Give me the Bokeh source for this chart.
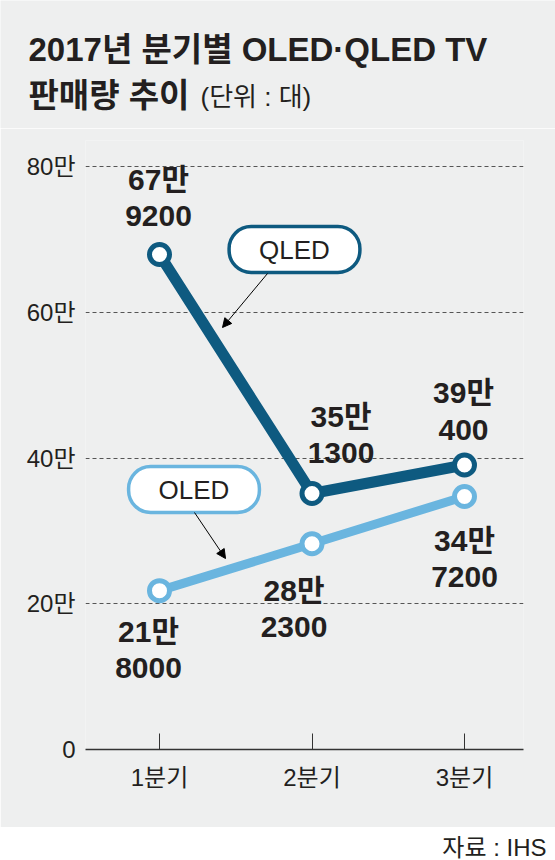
from bokeh.plotting import figure
from bokeh.models import Range1d, FixedTicker, Label, Arrow, NormalHead
from bokeh.layouts import column
from bokeh.embed import file_html
from bokeh.resources import INLINE
from bokeh.core.properties import value

# ---- data ----
quarters = ["1분기", "2분기", "3분기"]
quarter_pos = [1, 2, 3]
qled = [679200, 351300, 390400]
oled = [218000, 282300, 347200]
y_ticks = [0, 200000, 400000, 600000, 800000]
y_tick_labels = ["0", "20만", "40만", "60만", "80만"]
title_line1 = "2017년 분기별 OLED·QLED TV"
title_line2 = "판매량 추이"
unit_text = "(단위 : 대)"
source_text = "자료 : IHS"


def man(v):
    return f"{v // 10000}만\n{v % 10000}"


# ---- styling / layout (page pixel coordinates) ----
FONT = "Liberation Sans, Noto Sans CJK KR"
INK = "#231f20"
BG = "#eeefef"
QC = "#0e5a80"
OC = "#6ab5df"

W = 555
HT = 128                 # title strip height
GRAY_END = 827           # bottom of the gray panel
H_MAIN = GRAY_END - HT
H_FOOT = 860 - GRAY_END
FL, FR, FT, FB = 85, 523, 140, 749           # frame edges (page px)
X1, STEP = 159, 152.5                        # px of quarter 1, px per quarter
PY = 145.75 / 200000                         # px per unit (y)
XS = 1 - (X1 - FL) / STEP
XE = 1 + (FR - X1) / STEP
YE = (FB - FT) / PY


def dx(px):
    return XS + (px - FL) / STEP


def dy(py):
    return (FB - py) / PY


# ---- title strip ----
t = figure(width=W, height=HT, x_range=Range1d(0, W), y_range=Range1d(HT, 0),
           output_backend="svg", toolbar_location=None, min_border=0,
           frame_align=False,
           x_axis_type=None, y_axis_type=None, background_fill_color=BG,
           border_fill_color=BG, outline_line_color=None)
t.text(x=[28], y=[49], text=[title_line1], text_align="left", text_baseline="middle",
       text_font=value(FONT), text_font_style="bold", text_font_size="33px",
       text_color=INK)
t.text(x=[28], y=[95], text=[title_line2], text_align="left", text_baseline="middle",
       text_font=value(FONT), text_font_style="bold", text_font_size="33px",
       text_color=INK)
t.text(x=[200], y=[96], text=[unit_text], text_align="left", text_baseline="middle",
       text_font=value(FONT), text_font_size="26px", text_color=INK)

# ---- main chart ----
p = figure(width=W, height=H_MAIN, x_range=Range1d(XS, XE), y_range=Range1d(0, YE),
           output_backend="svg", toolbar_location=None, frame_align=False,
           min_border_left=FL, min_border_right=W - FR,
           min_border_top=FT - HT, min_border_bottom=GRAY_END - FB,
           background_fill_color=BG, border_fill_color=BG, outline_line_color=None)

p.xaxis.ticker = FixedTicker(ticks=quarter_pos)
p.xaxis.major_label_overrides = {q: s for q, s in zip(quarter_pos, quarters)}
p.xaxis.major_tick_in = 16
p.xaxis.major_tick_out = 0
p.xaxis.minor_tick_line_color = None
p.xaxis.axis_line_color = "#333333"
p.xaxis.axis_line_width = 1.5
p.xaxis.major_tick_line_color = "#333333"
p.xaxis.major_label_text_font = FONT
p.xaxis.major_label_text_font_size = "24px"
p.xaxis.major_label_text_color = INK
p.xaxis.major_label_standoff = 14

p.yaxis.ticker = FixedTicker(ticks=y_ticks)
p.yaxis.major_label_overrides = {v: s for v, s in zip(y_ticks, y_tick_labels)}
p.yaxis.axis_line_color = None
p.yaxis.major_tick_line_color = None
p.yaxis.minor_tick_line_color = None
p.yaxis.major_label_text_font = FONT
p.yaxis.major_label_text_font_size = "24px"
p.yaxis.major_label_text_color = INK
p.yaxis.major_label_standoff = 4

p.xgrid.visible = False
p.ygrid.grid_line_dash = "4 3"
p.ygrid.grid_line_color = "#555555"
p.ygrid.grid_line_width = 1

p.line(quarter_pos, oled, line_width=9, color=OC)
p.line(quarter_pos, qled, line_width=11, color=QC)
p.scatter(quarter_pos, oled, size=20, fill_color="white", line_color=OC, line_width=5)
p.scatter(quarter_pos, qled, size=20, fill_color="white", line_color=QC, line_width=5)

lab_kw = dict(text_align="center", text_baseline="middle", text_font=value(FONT),
              text_font_style="bold", text_font_size="30px", text_color=INK,
              text_line_height=1.1)
p.text(x=quarter_pos, y=qled, text=[man(v) for v in qled],
       x_offset=[-1, 29, -1], y_offset=[-57, -59, -54], **lab_kw)
p.text(x=quarter_pos, y=oled, text=[man(v) for v in oled],
       x_offset=[-11, -18, 0], y_offset=[59, 65, 62], **lab_kw)


def callout(text, cx, cy, color):
    p.add_layout(Label(x=dx(cx), y=dy(cy), text=text, text_align="center",
                       text_baseline="middle", text_font=FONT, text_font_size="26px",
                       text_color=INK, background_fill_color="white",
                       border_line_color=color, border_line_width=3.5,
                       border_radius=22, padding=(30, 8)))


callout("QLED", 294, 249, QC)
callout("OLED", 193.5, 489, OC)
for (x0, y0, x1, y1) in [(267, 273, 222, 327), (194, 512, 225, 558)]:
    p.add_layout(Arrow(end=NormalHead(size=9, fill_color="black", line_color="black"),
                       x_start=dx(x0), y_start=dy(y0), x_end=dx(x1), y_end=dy(y1),
                       line_width=1, line_color="black"))

# ---- footer ----
f = figure(width=W, height=H_FOOT, x_range=Range1d(0, W), y_range=Range1d(H_FOOT, 0),
           output_backend="svg", toolbar_location=None, min_border=0,
           frame_align=False,
           x_axis_type=None, y_axis_type=None, background_fill_color="white",
           border_fill_color="white", outline_line_color=None)
f.text(x=[546], y=[20], text=[source_text], text_align="right",
       text_baseline="middle", text_font=value(FONT), text_font_size="24px",
       text_color=INK)

layout = column(t, p, f, spacing=0)
open("out.html", "w").write(file_html(layout, INLINE))
